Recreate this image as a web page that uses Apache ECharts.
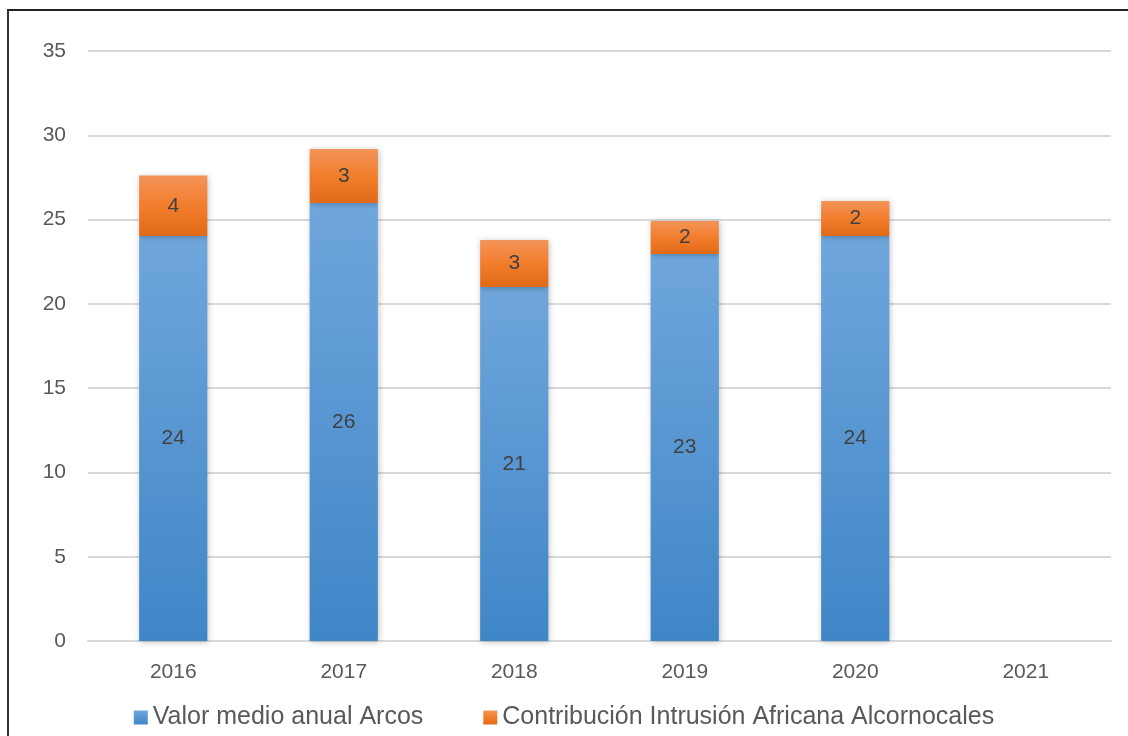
<!DOCTYPE html>
<html><head><meta charset="utf-8">
<script src="https://cdn.jsdelivr.net/npm/echarts@6/dist/echarts.min.js"></script>
<style>
html,body{margin:0;padding:0;background:#fff;overflow:hidden}
#frame{position:absolute;left:7px;top:9px;width:1200px;height:800px;border-left:2px solid #333;border-top:2px solid #222;box-sizing:border-box}
#c{position:absolute;left:0;top:0;width:1128px;height:736px}
</style></head>
<body>
<div id="frame"></div>
<div id="c"></div>
<script>
const categories = ['2016','2017','2018','2019','2020','2021'];
const valorMedio = [24.03, 25.98, 21.0, 22.96, 24.03, null];
const contribucion = [3.58, 3.21, 2.79, 1.96, 2.07, null];
const yTicks = {min: 0, max: 35, interval: 5};

const FONT = "'Liberation Sans', Arial, sans-serif";
const chart = echarts.init(document.getElementById('c'), null, {renderer: 'canvas'});
const lbl = {show: true, position: 'inside', color: '#404040', fontSize: 21, fontFamily: FONT,
  formatter: p => p.value == null ? '' : String(Math.round(p.value))};
chart.setOption({
  animation: false,
  backgroundColor: 'transparent',
  grid: {left: 88, right: 17, top: 51, bottom: 95, containLabel: false},
  legend: {
    bottom: 1, left: 'center', itemWidth: 14, itemHeight: 14, itemGap: 60,
    icon: 'rect',
    textStyle: {color: '#595959', fontSize: 25, fontFamily: FONT},
    data: ['Valor medio anual Arcos', 'Contribución Intrusión Africana Alcornocales']
  },
  xAxis: {
    type: 'category', data: categories,
    axisLine: {lineStyle: {color: '#d9d9d9', width: 2}},
    axisTick: {show: false},
    axisLabel: {color: '#595959', fontSize: 21, fontFamily: FONT, margin: 21}
  },
  yAxis: {
    type: 'value', min: yTicks.min, max: yTicks.max, interval: yTicks.interval,
    axisLine: {show: false}, axisTick: {show: false},
    axisLabel: {color: '#595959', fontSize: 21, fontFamily: FONT, margin: 22},
    splitLine: {lineStyle: {color: '#d9d9d9', width: 2}}
  },
  series: [
    {
      name: 'Valor medio anual Arcos', type: 'bar', stack: 'a', data: valorMedio,
      barWidth: '40%',
      itemStyle: {
        color: new echarts.graphic.LinearGradient(0, 0, 0, 1, [
          {offset: 0, color: '#6fa6dc'}, {offset: 1, color: '#3f86c7'}]),
        shadowColor: 'rgba(0,0,0,0.25)', shadowBlur: 6, shadowOffsetX: 1, shadowOffsetY: 1
      },
      label: lbl
    },
    {
      name: 'Contribución Intrusión Africana Alcornocales', type: 'bar', stack: 'a', data: contribucion,
      barWidth: '40%',
      itemStyle: {
        color: new echarts.graphic.LinearGradient(0, 0, 0, 1, [
          {offset: 0, color: '#f39459'}, {offset: 0.5, color: '#f27d2c'}, {offset: 1, color: '#e06a17'}]),
        shadowColor: 'rgba(0,0,0,0.25)', shadowBlur: 6, shadowOffsetX: 1, shadowOffsetY: 1
      },
      label: lbl
    }
  ]
});
</script>
</body></html>
